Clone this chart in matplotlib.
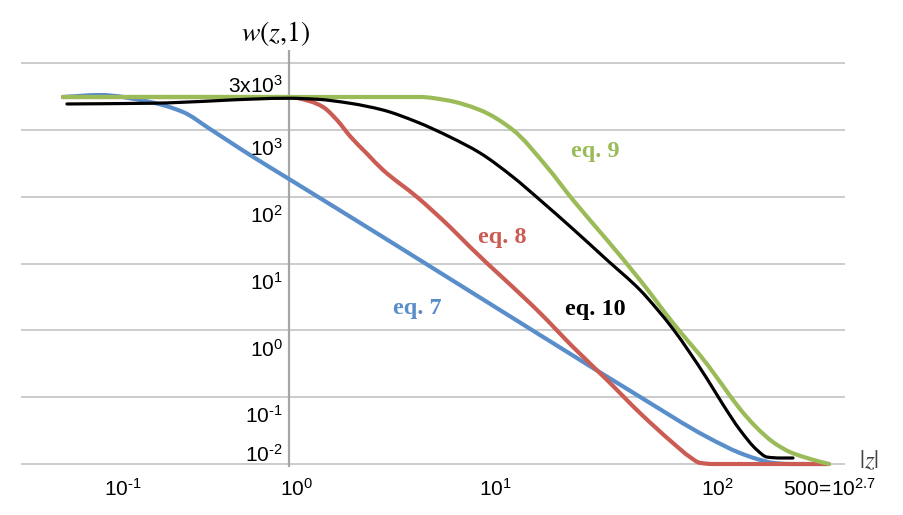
import matplotlib
matplotlib.use("Agg")
import numpy as np
import matplotlib.pyplot as plt
from matplotlib.path import Path
from matplotlib.patches import PathPatch

plt.rcParams['mathtext.fontset'] = 'custom'
plt.rcParams['mathtext.rm'] = 'Liberation Sans'
plt.rcParams['mathtext.it'] = 'Liberation Sans:italic'
plt.rcParams['mathtext.bf'] = 'Liberation Sans:bold'

# ---- data ----
eq7_z = [0.0741, 0.1135, 0.2018, 0.2951, 0.4027, 0.5248, 0.6383, 1.0, 2.951, 17.99,
         56.89, 123.0, 179.9, 218.8, 263.0, 319.9, 500.0]
eq7_w = [3100, 3320, 2610, 1850, 1030, 614, 421, 184, 24.9, 0.851,
         0.101, 0.0254, 0.0146, 0.0119, 0.0104, 0.01, 0.01]

eq8_z = [0.0741, 0.359, 1.0, 1.274, 1.479, 1.738, 2.018, 2.455, 2.951, 4.365, 6.383, 8.035,
         17.99, 26.30, 38.90, 56.89, 83.18, 101.2, 113.5, 131.8, 500.0]
eq8_w = [3100, 3100, 3100, 2680, 2200, 1400, 806, 439, 251, 98.9, 35.2, 17.7,
         1.82, 0.564, 0.181, 0.0579, 0.0206, 0.0127, 0.0104, 0.01, 0.01]

eq9_z = [0.0741, 1.0, 4.519, 6.166, 9.016, 13.18, 19.50, 26.30, 38.90, 56.89, 83.18, 123.0,
         147.9, 179.9, 218.8, 263.0, 319.9, 389.0, 500.0]
eq9_w = [3100, 3100, 3100, 2770, 1980, 995, 278, 89.2, 22.5, 5.66, 1.29, 0.313,
         0.147, 0.0665, 0.0346, 0.0213, 0.0151, 0.0123, 0.01]

eq10_z = [0.0776, 0.2018, 1.0, 1.380, 2.018, 2.951, 4.365, 6.383, 9.016, 13.18, 17.99, 26.30,
          38.90, 56.89, 69.18, 83.18, 101.2, 123.0, 147.9, 179.9, 218.8, 245.5, 285.1, 331.1]
eq10_w = [2440, 2500, 2970, 2870, 2500, 1980, 1310, 782, 451, 197, 89.2, 32.8,
          11.3, 4.02, 2.08, 1.05, 0.458, 0.189, 0.0775, 0.0323, 0.0162, 0.0127, 0.0123, 0.0123]

grid_levels = [1e-2, 1e-1, 1e0, 1e1, 1e2, 1e3, 1e4]
HY = '\u2010'
y_labels = ['$\\mathregular{10^{%s2}}$' % HY, '$\\mathregular{10^{%s1}}$' % HY,
            '$\\mathregular{10^{0}}$', '$\\mathregular{10^{1}}$',
            '$\\mathregular{10^{2}}$', '$\\mathregular{10^{3}}$']
y_label_pos = [10**-1.97, 10**-1.39, 10**-0.39, 10**0.61, 10**1.61, 10**2.61]
x_labels = ['$\\mathregular{10^{%s1}}$' % HY, '$\\mathregular{10^{0}}$', '$\\mathregular{10^{1}}$',
            '$\\mathregular{10^{2}}$', '$\\mathregular{500\\!=\\!10^{2.7}}$']
x_label_pos = [10**-0.83, 10**0.04, 10**1.03, 10**2.14, 10**2.705]

BLUE = '#5A8ECB'
RED = '#CB5C53'
GREEN = '#9BBB59'


def smoothed_path(z, w):
    """Excel-like smoothed line: monotone cubic (PCHIP style) segments in log-log space,
    expressed as Bezier control points so the library's log scales do the mapping."""
    x = np.log10(np.asarray(z, float))
    y = np.log10(np.asarray(w, float))
    n = len(x)
    h = np.diff(x)
    d = np.diff(y) / h
    m = np.zeros(n)
    m[0], m[-1] = d[0], d[-1]
    for k in range(1, n - 1):
        if d[k - 1] * d[k] <= 0:
            m[k] = 0.0
        else:
            w1 = 2 * h[k] + h[k - 1]
            w2 = h[k] + 2 * h[k - 1]
            m[k] = (w1 + w2) / (w1 / d[k - 1] + w2 / d[k])
    verts = [(x[0], y[0])]
    codes = [Path.MOVETO]
    for k in range(n - 1):
        dx = h[k] / 3.0
        verts += [(x[k] + dx, y[k] + m[k] * dx), (x[k + 1] - dx, y[k + 1] - m[k + 1] * dx),
                  (x[k + 1], y[k + 1])]
        codes += [Path.CURVE4] * 3
    return Path(10 ** np.array(verts), codes)


fig = plt.figure(figsize=(9.04, 5.15), dpi=100)
ax = fig.add_axes([0, 0, 1, 1])
ax.set_xscale('log')
ax.set_yscale('log')
ax.set_xlim(10**-1.445, 10**3.075)
ax.set_ylim(10**-2.763, 10**4.943)
ax.axis('off')

# grid lines
ax.hlines(grid_levels, 10**-1.34, 10**2.78, color='#BFBFBF', lw=1.1, zorder=1)
# vertical axis at z = 1
ax.vlines(1.0, 10**-2.045, 10**4.195, color='#A6A6A6', lw=1.6, zorder=1.5)

series = [(eq7_z, eq7_w, BLUE, 3.0, 2), (eq8_z, eq8_w, RED, 3.0, 3),
          (eq9_z, eq9_w, GREEN, 3.0, 4), (eq10_z, eq10_w, 'black', 2.3, 5)]
for zz, ww, col, lw, zo in series:
    ax.add_patch(PathPatch(smoothed_path(zz, ww), fill=False, edgecolor=col, lw=lw,
                           capstyle='round', joinstyle='round', zorder=zo))

tick_font = dict(fontsize=15, family='Liberation Sans', color='black')
for lab, yp in zip(y_labels, y_label_pos):
    ax.text(10**-0.03, yp, lab, ha='right', va='baseline', **tick_font)
ax.text(10**-0.03, 10**3.551, '$\\mathregular{3x10^{3}}$', ha='right', va='baseline', **tick_font)
for lab, xp in zip(x_labels, x_label_pos):
    ax.text(xp, 10**-2.479, lab, ha='center', va='baseline', **tick_font)

ax.text(10**-0.065, 10**4.449, '$w(z{,}1)$', ha='center', va='center', fontsize=20,
        math_fontfamily='stix')
ax.text(10**2.9, 10**-1.955, '$|z|$', ha='center', va='center', fontsize=18,
        math_fontfamily='stix', color='#404040')

eq_font = dict(fontsize=17.5, family='Liberation Serif', weight='bold', ha='center', va='baseline')
ax.text(10**1.53, 10**2.594, 'eq. 9', color=GREEN, **eq_font)
ax.text(10**1.065, 10**1.307, 'eq. 8', color=RED, **eq_font)
ax.text(10**0.64, 10**0.245, 'eq. 7', color=BLUE, **eq_font)
ax.text(10**1.533, 10**0.230, 'eq. 10', color='black', **eq_font)

fig.savefig('out.png', dpi=100)
